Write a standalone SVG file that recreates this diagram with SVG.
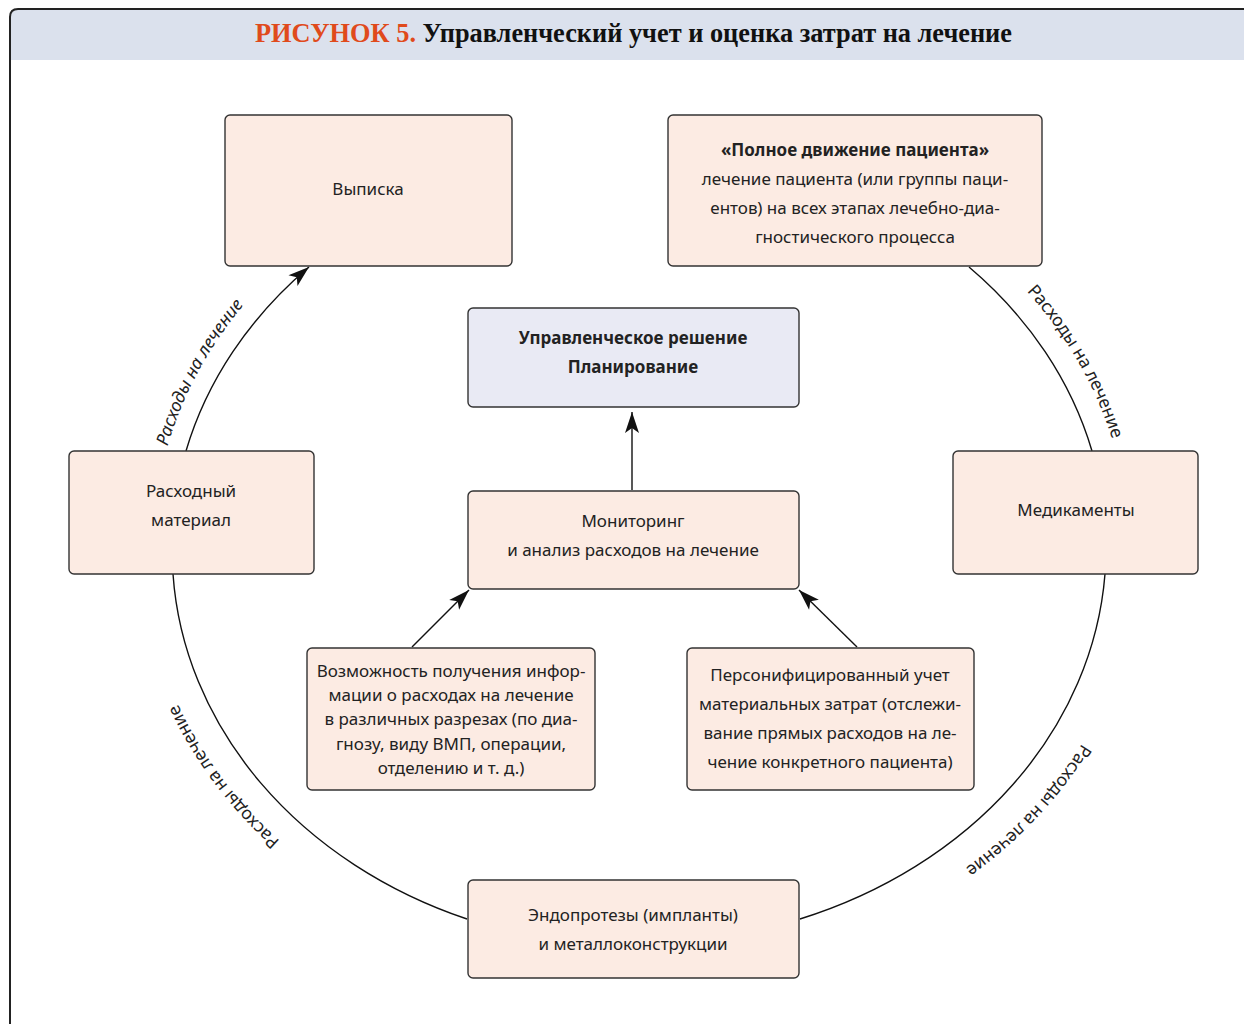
<svg xmlns="http://www.w3.org/2000/svg" width="1244" height="1024" viewBox="0 0 1244 1024">
<style>
.box{fill:#fcebe3;stroke:#333;stroke-width:1.4}
.box2{fill:#e9eaf4;stroke:#333;stroke-width:1.4}
.t{font-family:"Noto Sans","Open Sans",sans-serif;font-size:17px;fill:#222;text-anchor:middle}
.b{font-weight:bold}
.lab{font-family:"Noto Sans","Open Sans",sans-serif;font-size:17.5px;fill:#222;text-anchor:middle}
.con{fill:none;stroke:#111;stroke-width:1.4}
</style>
<defs>
<marker id="arr" markerUnits="userSpaceOnUse" markerWidth="24" markerHeight="16" viewBox="-22 -8 24 16" refX="0" refY="0" orient="auto">
<path d="M0,0 L-21,-7 L-16,0 L-21,7 Z" fill="#111"/>
</marker>
<path id="lp1" d="M160.4,474.8 A486,416 0 0,1 266.7,279.6"/>
<path id="lp2" d="M1002,266 A490,420 0 0,1 1118,460"/>
<path id="lp3" d="M1099.3,712.7 A500,424 0 0,1 939.9,885.6"/>
<path id="lp4" d="M313.6,868.5 A496,426 0 0,1 170,685.7"/>
</defs>
<rect x="0" y="0" width="1244" height="1024" fill="#fff"/>
<g id="frame">
<path d="M10,1030 L10,17 Q10,9 18,9 L1250,9 L1250,60 L11,60" fill="#dbe1ed" stroke="none"/>
<path d="M10,1030 L10,17 Q10,9 18,9 L1250,9" fill="none" stroke="#222" stroke-width="2"/>
<text x="255" y="42" textLength="757" lengthAdjust="spacingAndGlyphs" style="font-family:'Liberation Serif',serif;font-weight:bold;font-size:27px;fill:#111"><tspan fill="#e04a1c">РИСУНОК 5.</tspan> Управленческий учет и оценка затрат на лечение</text>
</g>
<g id="connectors">
<path class="con" d="M186,451 A467,396 0 0,1 309,267" marker-end="url(#arr)"/>
<path class="con" d="M969,267 A467,396 0 0,1 1092,451"/>
<path class="con" d="M1105,574 A467,396 0 0,1 800,919"/>
<path class="con" d="M467,919 A467,396 0 0,1 173,574"/>
<line class="con" x1="632" y1="490" x2="632" y2="412" marker-end="url(#arr)"/>
<line class="con" x1="412" y1="647" x2="469" y2="590" marker-end="url(#arr)"/>
<line class="con" x1="857" y1="647" x2="799" y2="590" marker-end="url(#arr)"/>
<text class="lab" style="font-style:italic"><textPath href="#lp1" startOffset="49%">Расходы на лечение</textPath></text>
<text class="lab"><textPath href="#lp2" startOffset="53%">Расходы на лечение</textPath></text>
<text class="lab"><textPath href="#lp3" startOffset="51%">Расходы на лечение</textPath></text>
<text class="lab"><textPath href="#lp4" startOffset="55%">Расходы на лечение</textPath></text>
</g>
<g id="n1"><rect class="box" x="225" y="115" width="287" height="151" rx="5"/>
<text class="t" x="368" y="195">Выписка</text></g>
<g id="n2"><rect class="box" x="668" y="115" width="374" height="151" rx="5"/>
<text class="t" x="855" y="156"><tspan class="b">«Полное движение пациента»</tspan><tspan x="855" y="185">лечение пациента (или группы паци-</tspan><tspan x="855" y="214">ентов) на всех этапах лечебно-диа-</tspan><tspan x="855" y="243">гностического процесса</tspan></text></g>
<g id="n3"><rect class="box2" x="468" y="308" width="331" height="99" rx="5"/>
<text class="t b" x="633" y="344">Управленческое решение<tspan x="633" y="373">Планирование</tspan></text></g>
<g id="n4"><rect class="box" x="69" y="451" width="245" height="123" rx="5"/>
<text class="t" x="191" y="497">Расходный<tspan x="191" y="526">материал</tspan></text></g>
<g id="n5"><rect class="box" x="468" y="491" width="331" height="98" rx="5"/>
<text class="t" x="633" y="527">Мониторинг<tspan x="633" y="556">и анализ расходов на лечение</tspan></text></g>
<g id="n6"><rect class="box" x="953" y="451" width="245" height="123" rx="5"/>
<text class="t" x="1076" y="516">Медикаменты</text></g>
<g id="n7"><rect class="box" x="307" y="648" width="288" height="142" rx="5"/>
<text class="t" x="451" y="677">Возможность получения инфор-<tspan x="451" y="701">мации о расходах на лечение</tspan><tspan x="451" y="725">в различных разрезах (по диа-</tspan><tspan x="451" y="750">гнозу, виду ВМП, операции,</tspan><tspan x="451" y="774">отделению и т. д.)</tspan></text></g>
<g id="n8"><rect class="box" x="687" y="648" width="287" height="142" rx="5"/>
<text class="t" x="830" y="681">Персонифицированный учет<tspan x="830" y="710">материальных затрат (отслежи-</tspan><tspan x="830" y="739">вание прямых расходов на ле-</tspan><tspan x="830" y="768">чение конкретного пациента)</tspan></text></g>
<g id="n9"><rect class="box" x="468" y="880" width="331" height="98" rx="5"/>
<text class="t" x="633" y="921">Эндопротезы (импланты)<tspan x="633" y="950">и металлоконструкции</tspan></text></g>
</svg>
